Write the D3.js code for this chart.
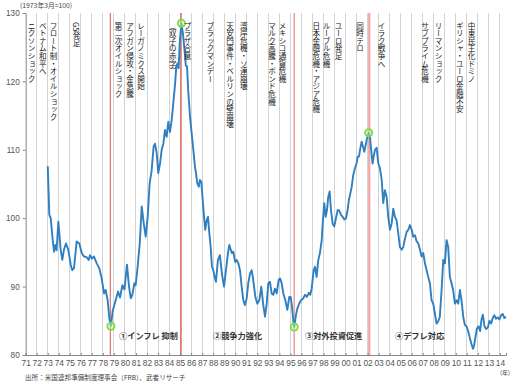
<!DOCTYPE html>
<html><head><meta charset="utf-8">
<script src="https://cdn.jsdelivr.net/npm/d3@7"></script>
<style>
body{margin:0;background:#fff;}
svg{display:block;font-family:"Noto Sans CJK JP","Noto Sans",sans-serif;}
</style></head>
<body>
<svg id="c" width="516" height="386"></svg>
<script>
// ---- data ----
const seriesYears = [1973.00,1973.14,1973.27,1973.45,1973.57,1973.69,1973.80,1973.96,1974.05,1974.17,1974.32,1974.47,1974.65,1974.86,1975.08,1975.22,1975.38,1975.62,1975.86,1976.08,1976.29,1976.53,1976.71,1976.83,1977.01,1977.19,1977.44,1977.67,1977.89,1978.10,1978.25,1978.43,1978.58,1978.73,1978.89,1979.00,1979.19,1979.37,1979.55,1979.77,1979.96,1980.18,1980.37,1980.52,1980.67,1980.85,1980.97,1981.15,1981.34,1981.52,1981.70,1981.88,1982.06,1982.24,1982.42,1982.60,1982.72,1982.88,1983.02,1983.18,1983.33,1983.48,1983.63,1983.78,1983.93,1984.08,1984.24,1984.38,1984.54,1984.66,1984.76,1984.86,1984.98,1985.12,1985.27,1985.40,1985.52,1985.63,1985.74,1985.90,1986.05,1986.20,1986.35,1986.44,1986.56,1986.69,1986.80,1986.92,1987.05,1987.17,1987.28,1987.41,1987.53,1987.65,1987.77,1987.89,1988.01,1988.13,1988.25,1988.43,1988.61,1988.79,1988.98,1989.16,1989.34,1989.46,1989.59,1989.70,1989.82,1990.00,1990.13,1990.28,1990.43,1990.58,1990.73,1990.88,1991.04,1991.18,1991.34,1991.49,1991.63,1991.82,1992.00,1992.18,1992.36,1992.54,1992.70,1992.85,1993.00,1993.15,1993.30,1993.45,1993.60,1993.76,1993.94,1994.06,1994.21,1994.36,1994.54,1994.72,1994.90,1995.03,1995.14,1995.26,1995.35,1995.50,1995.63,1995.80,1995.96,1996.17,1996.32,1996.50,1996.68,1996.80,1996.93,1997.11,1997.23,1997.38,1997.53,1997.68,1997.84,1997.95,1998.07,1998.20,1998.32,1998.43,1998.56,1998.68,1998.83,1998.98,1999.13,1999.29,1999.43,1999.59,1999.74,1999.89,2000.04,2000.19,2000.31,2000.43,2000.55,2000.70,2000.85,2001.00,2001.10,2001.22,2001.34,2001.46,2001.58,2001.70,2001.83,2001.95,2002.10,2002.22,2002.31,2002.45,2002.55,2002.67,2002.82,2002.97,2003.12,2003.28,2003.42,2003.57,2003.73,2003.87,2004.03,2004.18,2004.33,2004.48,2004.63,2004.78,2004.93,2005.09,2005.24,2005.39,2005.54,2005.69,2005.84,2006.00,2006.14,2006.30,2006.45,2006.60,2006.75,2006.90,2007.05,2007.20,2007.35,2007.50,2007.65,2007.80,2007.95,2008.10,2008.25,2008.40,2008.55,2008.71,2008.86,2009.01,2009.16,2009.31,2009.46,2009.61,2009.76,2009.92,2010.07,2010.22,2010.37,2010.52,2010.67,2010.82,2010.97,2011.12,2011.27,2011.42,2011.55,2011.65,2011.75,2011.90,2012.05,2012.20,2012.33,2012.45,2012.60,2012.75,2012.90,2013.05,2013.20,2013.35,2013.50,2013.65,2013.80,2013.95,2014.10,2014.25,2014.40,2014.55];
const seriesValues = [107.6,100.5,100.0,96.8,95.1,96.1,95.3,99.5,97.8,95.4,93.9,95.4,96.3,95.4,93.2,92.4,92.7,96.6,96.3,94.9,94.4,94.3,93.9,94.6,94.1,94.4,93.4,92.7,91.2,89.0,89.5,88.0,85.4,84.3,86.5,87.1,88.2,89.3,88.4,90.2,89.6,93.2,90.0,88.3,88.8,90.5,90.2,92.9,96.3,101.7,99.3,97.3,100.2,105.1,107.0,110.5,110.9,109.5,106.6,108.0,110.0,110.9,112.9,111.9,114.1,112.6,114.4,116.8,119.5,122.3,122.6,121.9,126.0,128.5,126.8,124.6,122.3,122.2,118.5,114.8,112.4,110.0,107.5,106.6,105.1,104.6,105.6,105.3,102.7,100.2,98.3,99.7,100.2,97.8,95.8,92.9,92.4,91.4,90.7,93.9,94.6,91.9,90.0,92.4,94.9,96.1,95.4,94.9,95.1,93.6,93.9,93.4,92.4,90.0,88.0,87.3,88.3,90.5,91.9,92.4,91.0,88.5,87.5,88.0,90.0,87.3,85.6,87.5,90.5,90.7,89.0,88.8,89.7,89.0,91.0,91.2,90.5,89.0,88.0,86.6,88.5,88.5,87.1,85.1,84.1,85.8,86.8,87.5,88.0,88.3,88.8,88.5,89.1,88.8,89.7,92.4,92.9,91.4,93.9,94.9,96.8,99.7,102.2,100.2,101.2,103.1,103.9,101.2,99.2,98.8,100.0,101.2,101.1,100.5,100.2,99.8,100.0,101.2,102.7,103.6,104.5,106.3,107.3,108.0,109.0,109.0,110.2,111.2,110.5,109.7,110.7,111.7,112.5,111.9,110.2,108.0,109.0,110.0,110.3,108.0,107.3,105.6,102.2,104.1,103.1,100.2,98.3,99.2,101.4,100.2,99.7,97.8,95.8,95.4,95.8,97.0,98.0,98.3,99.0,98.3,97.3,97.5,96.6,96.3,95.4,94.4,94.9,93.4,92.4,91.4,90.5,88.0,87.5,86.1,84.6,84.9,85.6,89.5,93.9,93.4,96.8,95.8,91.4,90.5,89.5,87.5,88.0,87.5,89.5,88.0,85.6,84.4,84.2,83.5,82.5,81.6,80.9,81.3,82.3,83.8,84.2,83.5,85.2,85.9,84.2,83.8,84.0,85.0,84.6,85.4,85.8,85.3,85.5,85.2,85.8,86.0,85.4,85.6];

const yTicks = [80, 90, 100, 110, 120, 130];
const yearTicks = d3.range(1971, 2015);
const yearLabels = yearTicks.map(y => String(y % 100).padStart(2, "0"));

const eventLabels = ["ニクソンショック","ベトナム和平へ","フロート制・オイルショック","G5発足","第二次オイルショック","アフガン侵攻・金急騰","レーガノミクス開始","（双子の赤字）","プラザ合意","ブラックマンデー","天安門事件・ベルリンの壁崩壊","湾岸危機・ソ連崩壊","マルク高騰・ボンド危機","メキシコ通貨危機","日本金融危機・アジア危機","ルーブル危機","ユーロ発足","同時テロ","イラク戦争へ","サブプライム危機","リーマンショック","ギリシャ・ユーロ金融不安","中東民主化ドミノ"];
const eventYears = [1971.53,1972.55,1973.52,1975.62,1979.41,1980.46,1981.45,1984.35,1985.67,1987.74,1989.52,1990.77,1993.33,1994.28,1997.36,1998.27,1999.36,2001.31,2003.26,2007.20,2008.43,2010.37,2011.42];

const turnYears = [1978.67, 1985.08, 1995.35, 2002.15];
const markerYears = [1978.73, 1985.12, 1995.35, 2002.10];
const markerValues = [84.2, 128.5, 84.1, 112.5];

const periodLabels = ["①インフレ 抑制","②競争力強化","③対外投資促進","④デフレ対応"];
const periodYears = [1979.46, 1987.98, 1996.32, 2004.48];

// ---- chart ----
const svg = d3.select("#c");
const x = d3.scaleLinear().domain([1971, 2014.55]).range([25.7, 506]);
const y = d3.scaleLinear().domain([80, 130]).range([355, 13]);

// vertical gridlines
svg.append("g").selectAll("line").data(yearTicks.slice(1)).join("line")
  .attr("x1", d => x(d)).attr("x2", d => x(d))
  .attr("y1", y(130)).attr("y2", y(80))
  .attr("stroke", "#d4d4d4").attr("stroke-width", 1).attr("shape-rendering","crispEdges");

// turning point lines
const turnColors = ["#d9534f", "#d9534f", "#f0a0a0", "#f2a3a3"];
const turnWidths = [1, 1.3, 1.6, 2.2];
svg.append("g").selectAll("line").data(turnYears).join("line")
  .attr("x1", d => x(d)).attr("x2", d => x(d))
  .attr("y1", y(130)).attr("y2", y(80))
  .attr("stroke", (d,i) => turnColors[i]).attr("stroke-width", (d,i) => turnWidths[i]);

// axes
const yAxis = d3.axisLeft(y).tickValues(yTicks).tickSize(3).tickPadding(3);
const gy = svg.append("g").attr("transform", `translate(${x(1971)},0)`).call(yAxis);
gy.selectAll("text").attr("font-size", 8.2).attr("fill", "#555").attr("font-family","Liberation Sans, Arial, sans-serif");
gy.selectAll("line,path").attr("stroke", "#888");

const xAxis = d3.axisBottom(x).tickValues(yearTicks).tickSize(-2).tickPadding(5)
  .tickFormat((d,i) => yearLabels[i]);
const gx = svg.append("g").attr("transform", `translate(0,${y(80)})`).call(xAxis);
gx.selectAll("text").attr("font-size", 8.4).attr("fill", "#555").attr("font-family","Liberation Sans, Arial, sans-serif");
gx.selectAll("line,path").attr("stroke", "#888");

// series line
const pts = seriesYears.map((t,i) => [t, seriesValues[i]]);
svg.append("path").datum(pts)
  .attr("fill", "none").attr("stroke", "#2f7fc1").attr("stroke-width", 1.9)
  .attr("stroke-linejoin", "round")
  .attr("d", d3.line().x(d => x(d[0])).y(d => y(d[1])));

// markers
svg.append("g").selectAll("circle").data(markerYears).join("circle")
  .attr("cx", d => x(d)).attr("cy", (d,i) => y(markerValues[i])).attr("r", 3.6)
  .attr("fill", "rgba(200,240,180,0.5)").attr("stroke", "#7ddc3c").attr("stroke-width", 1.8);

// event labels (vertical)
svg.append("g").selectAll("text").data(eventLabels).join("text")
  .attr("x", (d,i) => x(eventYears[i])).attr("y", 22)
  .style("writing-mode", "vertical-rl")
  .attr("font-size", 7.6).attr("fill", "#222")
  .text(d => d);

// period labels
svg.append("g").selectAll("text").data(periodLabels).join("text")
  .attr("x", (d,i) => x(periodYears[i])).attr("y", 339)
  .attr("font-size", 8.2).attr("font-weight", "bold").attr("fill", "#333")
  .text(d => d);

// annotations
svg.append("text").attr("x", 20).attr("y", 8).attr("font-size", 6.8).attr("fill", "#444").text("(1973年3月=100)");
svg.append("text").attr("x", 500).attr("y", 375).attr("font-size", 6).attr("fill", "#444").text("(年)");
svg.append("text").attr("x", 25).attr("y", 380).attr("font-size", 6.6).attr("fill", "#444")
  .text("出所：米国連邦準備制度理事会（FRB）、武者リサーチ");
</script>
</body></html>
